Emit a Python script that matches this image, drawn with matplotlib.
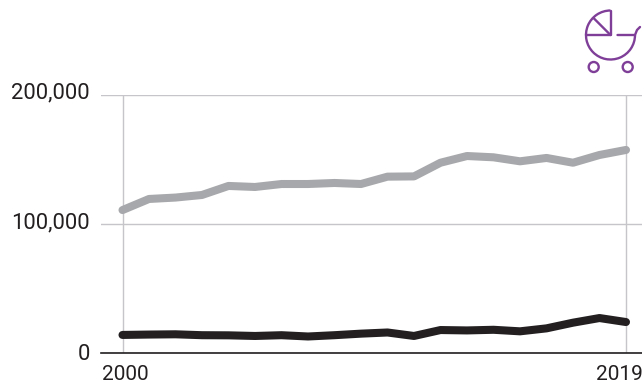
import matplotlib
matplotlib.use('Agg')
import matplotlib.pyplot as plt
from matplotlib.patches import Arc, Circle
from matplotlib.transforms import Affine2D

years = list(range(2000, 2020))
grey_values = [110800, 119400, 120500, 122500, 129500, 128700, 131000, 131000, 131800, 131000,
               136700, 136900, 147500, 152700, 151700, 148600, 151200, 147500, 153500, 157400]
black_values = [14000, 14300, 14500, 13800, 13700, 13200, 13800, 12800, 13800, 15000,
                15900, 13200, 17800, 17500, 18000, 16800, 19100, 23500, 27100, 24000]
y_ticks = [0, 100000, 200000]
x_ticks = [2000, 2019]

W, H = 642, 385
plt.rcParams['font.family'] = ['Roboto', 'DejaVu Sans']

fig = plt.figure(figsize=(W / 100, H / 100), dpi=100)
ax = fig.add_axes([101 / W, 1 - 353 / H, (W - 101) / W, 258 / H])

step = (626 - 122.5) / 19
ax.set_xlim(2000 - (122.5 - 101) / step, 2000 + (642 - 122.5) / step)
ax.set_ylim(0, 200000)

ax.plot(years, grey_values, color='#a7a8ab', lw=5.8, solid_capstyle='round', solid_joinstyle='round', zorder=3)
ax.plot(years, black_values, color='#231f20', lw=5.8, solid_capstyle='round', solid_joinstyle='round', zorder=3)

ax.set_xticks(x_ticks)
ax.set_yticks(y_ticks)
ax.set_xticklabels([])
ax.set_yticklabels([])
ax.grid(color='#c6c6ca', lw=1)
ax.tick_params(length=0)
for s in ['top', 'right', 'left']:
    ax.spines[s].set_visible(False)
ax.spines['bottom'].set_color('#231f20')
ax.spines['bottom'].set_linewidth(1.2)
ax.spines['bottom'].set_zorder(4)

# labels placed by hand, the reference nudges them off the ticks
text_kw = dict(xycoords='data', textcoords='offset pixels', color='#231f20', annotation_clip=False)
x_nudge = {2000: 2.5, 2019: -6.5}
for year in x_ticks:
    ax.annotate(str(year), (year, 0), xytext=(x_nudge[year], -31.5), ha='center', va='bottom',
                fontsize=15, **text_kw)
y_nudge = {0: -1, 100000: 1, 200000: 2}
x_left = ax.get_xlim()[0]
for v in y_ticks:
    ax.annotate(f'{v:,}', (x_left, v), xytext=(-11, y_nudge[v]), ha='right', va='center',
                fontsize=15.8, **text_kw)

# pram icon, drawn in pixel coordinates
purple = '#7f3f98'
px = Affine2D().scale(1, -1).translate(0, H)
lw = 1.7
kw = dict(color=purple, lw=lw, transform=px, clip_on=False, solid_capstyle='round')
cx, cy, r = 610.5, 35, 24.5
fig.add_artist(Arc((cx, cy), 2 * r, 2 * r, theta1=0, theta2=270, ec=purple, lw=lw, transform=px))
fig.add_artist(plt.Line2D([cx, cx, cx - r], [cy - r, cy, cy], **kw))
fig.add_artist(plt.Line2D([cx, 593.5], [cy, 18], **kw))
fig.add_artist(plt.Line2D([617.5, 635, 637, 640], [35, 35, 30, 27], **kw))
fig.add_artist(Circle((593.7, 67), 5, fc='none', ec=purple, lw=lw, transform=px))
fig.add_artist(Circle((627.7, 67), 5, fc='none', ec=purple, lw=lw, transform=px))

fig.savefig('out.png', dpi=100)
